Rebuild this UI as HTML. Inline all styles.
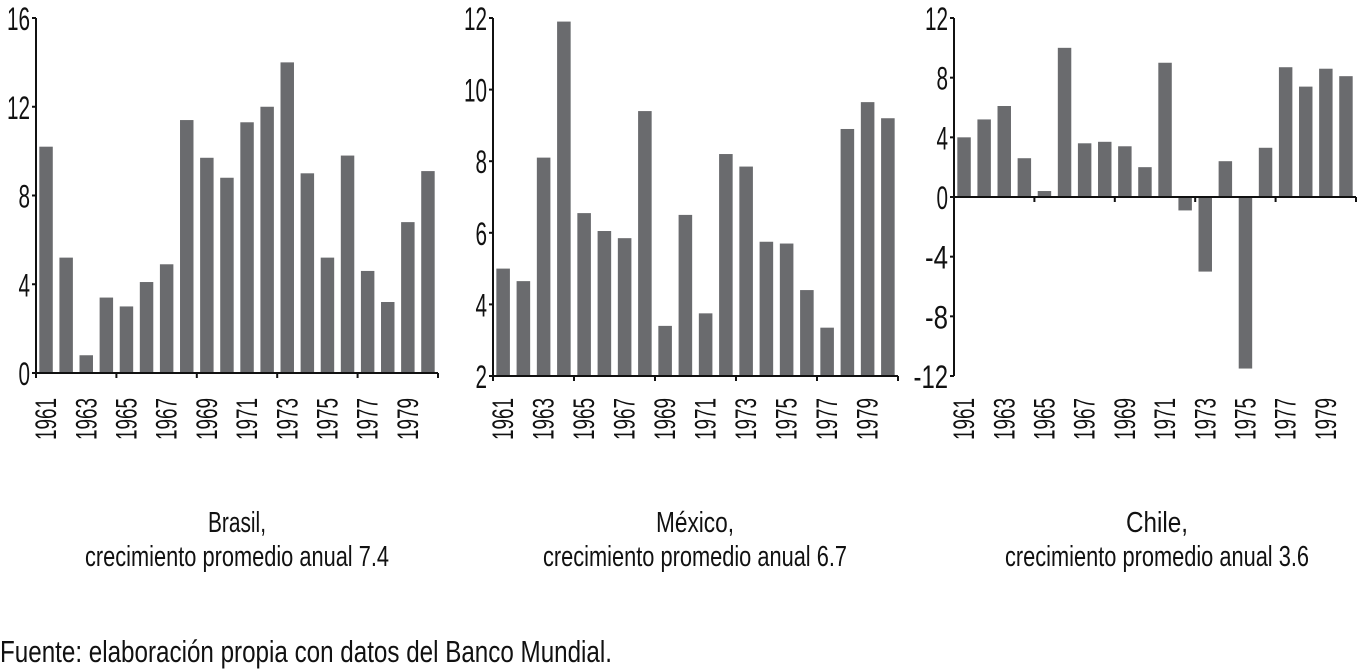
<!DOCTYPE html>
<html><head><meta charset="utf-8"><style>
html,body{margin:0;padding:0;background:#fff;}
svg{display:block;}
text{font-family:"Liberation Sans Narrow","Liberation Sans",sans-serif;fill:#111;}
</style></head><body>
<svg id="chart" width="1358" height="670" xmlns="http://www.w3.org/2000/svg">
<text x="0" y="662" font-size="31" textLength="612" lengthAdjust="spacingAndGlyphs">Fuente: elaboración propia con datos del Banco Mundial.</text>
</svg>
<script>
const years = [1961,1962,1963,1964,1965,1966,1967,1968,1969,1970,1971,1972,1973,1974,1975,1976,1977,1978,1979,1980];
const brasilValues = [10.2,5.2,0.8,3.4,3.0,4.1,4.9,11.4,9.7,8.8,11.3,12.0,14.0,9.0,5.2,9.8,4.6,3.2,6.8,9.1];
const mexicoValues = [5.0,4.65,8.1,11.9,6.55,6.05,5.85,9.4,3.4,6.5,3.75,8.2,7.85,5.75,5.7,4.4,3.35,8.9,9.65,9.2];
const chileValues = [4.0,5.2,6.1,2.6,0.4,10.0,3.6,3.7,3.4,2.0,9.0,-0.9,-5.0,2.4,-11.5,3.3,8.7,7.4,8.6,8.1];
const brasilTicks = [0,4,8,12,16];
const mexicoTicks = [2,4,6,8,10,12];
const chileTicks = [-12,-8,-4,0,4,8,12];
const titles = [["Brasil,","crecimiento promedio anual 7.4"],["México,","crecimiento promedio anual 6.7"],["Chile,","crecimiento promedio anual 3.6"]];

const NS="http://www.w3.org/2000/svg";
const svg=document.getElementById('chart');
function mk(tag,attrs,parent){const e=document.createElementNS(NS,tag);for(const k in attrs)e.setAttribute(k,attrs[k]);(parent||svg).appendChild(e);return e;}

const panels=[
 {name:'brasil',vals:brasilValues,ticks:brasilTicks,min:0,max:16,base:0,x0:36,x1:438,yTop:18,yBot:373,cx:237,title:titles[0],t1w:58},
 {name:'mexico',vals:mexicoValues,ticks:mexicoTicks,min:2,max:12,base:2,x0:493,x1:898,yTop:18,yBot:376,cx:695,title:titles[1],t1w:78},
 {name:'chile',vals:chileValues,ticks:chileTicks,min:-12,max:12,base:0,x0:954,x1:1356,yTop:18,yBot:376,cx:1157,title:titles[2],t1w:62}
];
panels.forEach(p=>{
 const g=mk('g',{});
 
 
 const y=v=>p.yBot-(v-p.min)/(p.max-p.min)*(p.yBot-p.yTop);
 const slot=(p.x1-p.x0)/years.length;
 const bw=slot*0.67;
 p.vals.forEach((v,i)=>{
  const xc=p.x0+slot*(i+0.5);
  const y0=y(p.base),y1=y(v);
  const r=mk('rect',{x:xc-bw/2,y:Math.min(y0,y1),width:bw,height:Math.abs(y1-y0),fill:'#6a6b6e'},g);
  
  
  if(i%2===0){
   const t=mk('text',{x:0,y:0,'font-size':30,'text-anchor':'end',textLength:42,lengthAdjust:'spacingAndGlyphs',transform:`translate(${xc+10},398) rotate(-90)`},g);
   t.textContent=years[i];
   
   
  }
 });
 const ya=mk('line',{x1:p.x0,x2:p.x0,y1:p.yTop,y2:p.yBot,stroke:'#111','stroke-width':2},g);
 
 
 const yb=y(p.base);
 const xa=mk('line',{x1:p.x0,x2:p.x1,y1:yb,y2:yb,stroke:'#111','stroke-width':2},g);
 
 
 for(let i=0;i<=years.length;i+=4){
  const xt=p.x0+slot*i;
  mk('line',{x1:xt,x2:xt,y1:yb,y2:yb+5,stroke:'#111','stroke-width':2},g);
 }
 p.ticks.forEach(v=>{
  const yy=y(v);
  mk('line',{x1:p.x0-4,x2:p.x0,y1:yy,y2:yy,stroke:'#111','stroke-width':2},g);
  const s=String(v);
  const t=mk('text',{x:p.x0-6,y:yy+12,'font-size':32,'text-anchor':'end',textLength:s.length*11.5,lengthAdjust:'spacingAndGlyphs'},g);
  t.textContent=s;
  
  
 });
 const t1=mk('text',{x:p.cx,y:532,'font-size':29,'text-anchor':'middle',textLength:p.t1w,lengthAdjust:'spacingAndGlyphs'},g);
 t1.textContent=p.title[0];
 
 
 const t2=mk('text',{x:p.cx,y:566,'font-size':29,'text-anchor':'middle',textLength:304,lengthAdjust:'spacingAndGlyphs'},g);
 t2.textContent=p.title[1];
 
 
});
</script>
</body></html>
